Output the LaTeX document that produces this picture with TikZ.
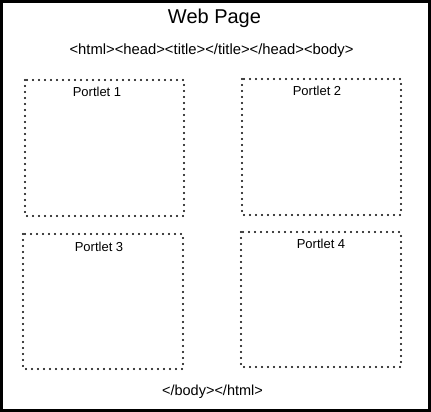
\documentclass[tikz,border=0pt]{standalone}
\usepackage{fontspec}
\setmainfont{Liberation Sans}
\begin{document}
\begin{tikzpicture}[x=1pt,y=-1pt,
  frame/.style={draw=black,line width=3.2pt},
  portlet/.style={draw=black,line width=2.4pt,line cap=round,dash pattern=on 0pt off 6pt},
  lbl/.style={inner sep=0pt,anchor=center}]
\useasboundingbox (0,0) rectangle (431,412);
\draw[frame] (1.6,1.6) rectangle (429.4,410.4);
\node[lbl,font=\fontsize{20}{24}\selectfont] (title) at (214.5,18) {Web Page};
\node[lbl,font=\fontsize{14.8}{18}\selectfont] (head) at (211.5,51) {<html><head><title></title></head><body>};
\draw[portlet] (25,80) rectangle (184,216);
\draw[portlet] (242,79) rectangle (401,215);
\draw[portlet] (23,234) rectangle (183,369);
\draw[portlet] (241,232) rectangle (401,367);
\node[lbl,font=\fontsize{13}{16}\selectfont] (p1) at (97,92) {Portlet 1};
\node[lbl,font=\fontsize{13}{16}\selectfont] (p2) at (317,91) {Portlet 2};
\node[lbl,font=\fontsize{13}{16}\selectfont] (p3) at (99,247) {Portlet 3};
\node[lbl,font=\fontsize{13}{16}\selectfont] (p4) at (321,244) {Portlet 4};
\node[lbl,font=\fontsize{14.5}{18}\selectfont] (foot) at (212.5,392) {</body></html>};
\end{tikzpicture}
\end{document}
